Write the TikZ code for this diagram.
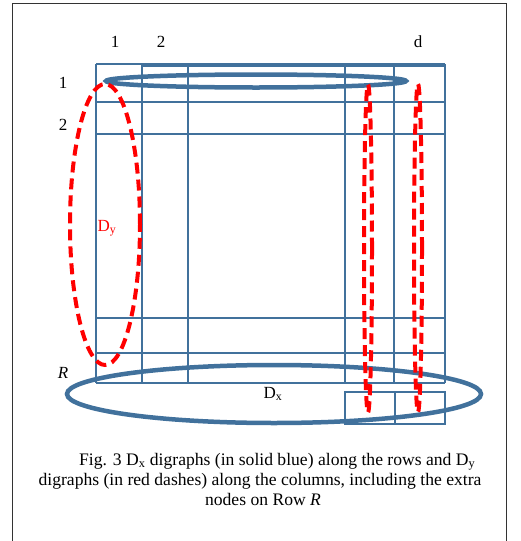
\documentclass[tikz,border=0pt]{standalone}
\usepackage{fontspec}
\setmainfont{Liberation Serif}
\definecolor{gridblue}{RGB}{65,113,156}
\definecolor{dashred}{RGB}{255,0,0}
\begin{document}
\begin{tikzpicture}[x=1pt,y=-1pt,
  gridline/.style={draw=gridblue,line width=2pt},
  thingrid/.style={draw=gridblue,line width=1.4pt},
  blueloop/.style={draw=gridblue,line width=4.5pt},
  redloop/.style={draw=dashred,line width=4pt,dash pattern=on 11pt off 6pt},
  lbl/.style={font=\fontsize{17}{20}\selectfont,inner sep=0pt,anchor=base},
  captext/.style={font=\fontsize{17.6}{20}\selectfont,inner sep=0pt,anchor=base}]
\useasboundingbox (0,0) rectangle (520,541);
% frame (open at the bottom edge of the picture)
\draw[line width=1pt,black!80] (12,545) -- (12,3) -- (506,3) -- (506,545);
% grid: horizontal lines
\foreach \yy in {64,102,134,318,353,383}
  \draw[gridline] (96,\yy) -- (445,\yy);
\draw[gridline] (142,66) -- (445,66);
% grid: vertical lines
\foreach \xx in {96,142,188,345,394,445}
  \draw[gridline] (\xx,64) -- (\xx,383);
% extra nodes on row R
\draw[thingrid] (345,392) rectangle (445,424);
\draw[thingrid] (395,392) -- (395,424);
% Dx loops (blue)
\draw[blueloop] (256,81) ellipse [x radius=150pt, y radius=6.5pt];
\draw[blueloop] (274,394) ellipse [x radius=207pt, y radius=29pt];
% Dy loops (red dashed)
\draw[redloop] (105,224.5) ellipse [x radius=35pt, y radius=140.5pt];
\draw[redloop] (368,248.5) ellipse [x radius=4pt, y radius=164pt];
\draw[redloop] (418,248) ellipse [x radius=4pt, y radius=164pt];
% column labels
\node[lbl] (c1) at (115,47) {1};
\node[lbl] (c2) at (161,47) {2};
\node[lbl] (cd) at (418,47) {d};
% row labels
\node[lbl] (r1) at (63,88) {1};
\node[lbl] (r2) at (63,130) {2};
\node[lbl] (rR) at (63,378) {\itshape R};
% digraph labels
\node[lbl,text=dashred] (dy) at (107,231) {D\textsubscript{y}};
\node[lbl] (dx) at (273,398) {D\textsubscript{x}};
% caption
\node[captext,anchor=base west] (l1) at (79,465) {Fig. 3 D\textsubscript{x} digraphs (in solid blue) along the rows and D\textsubscript{y}};
\node[captext] (l2) at (260,485.5) {digraphs (in red dashes) along the columns, including the extra};
\node[captext] (l3) at (263,505.5) {nodes on Row \textit{R}};
\end{tikzpicture}
\end{document}
